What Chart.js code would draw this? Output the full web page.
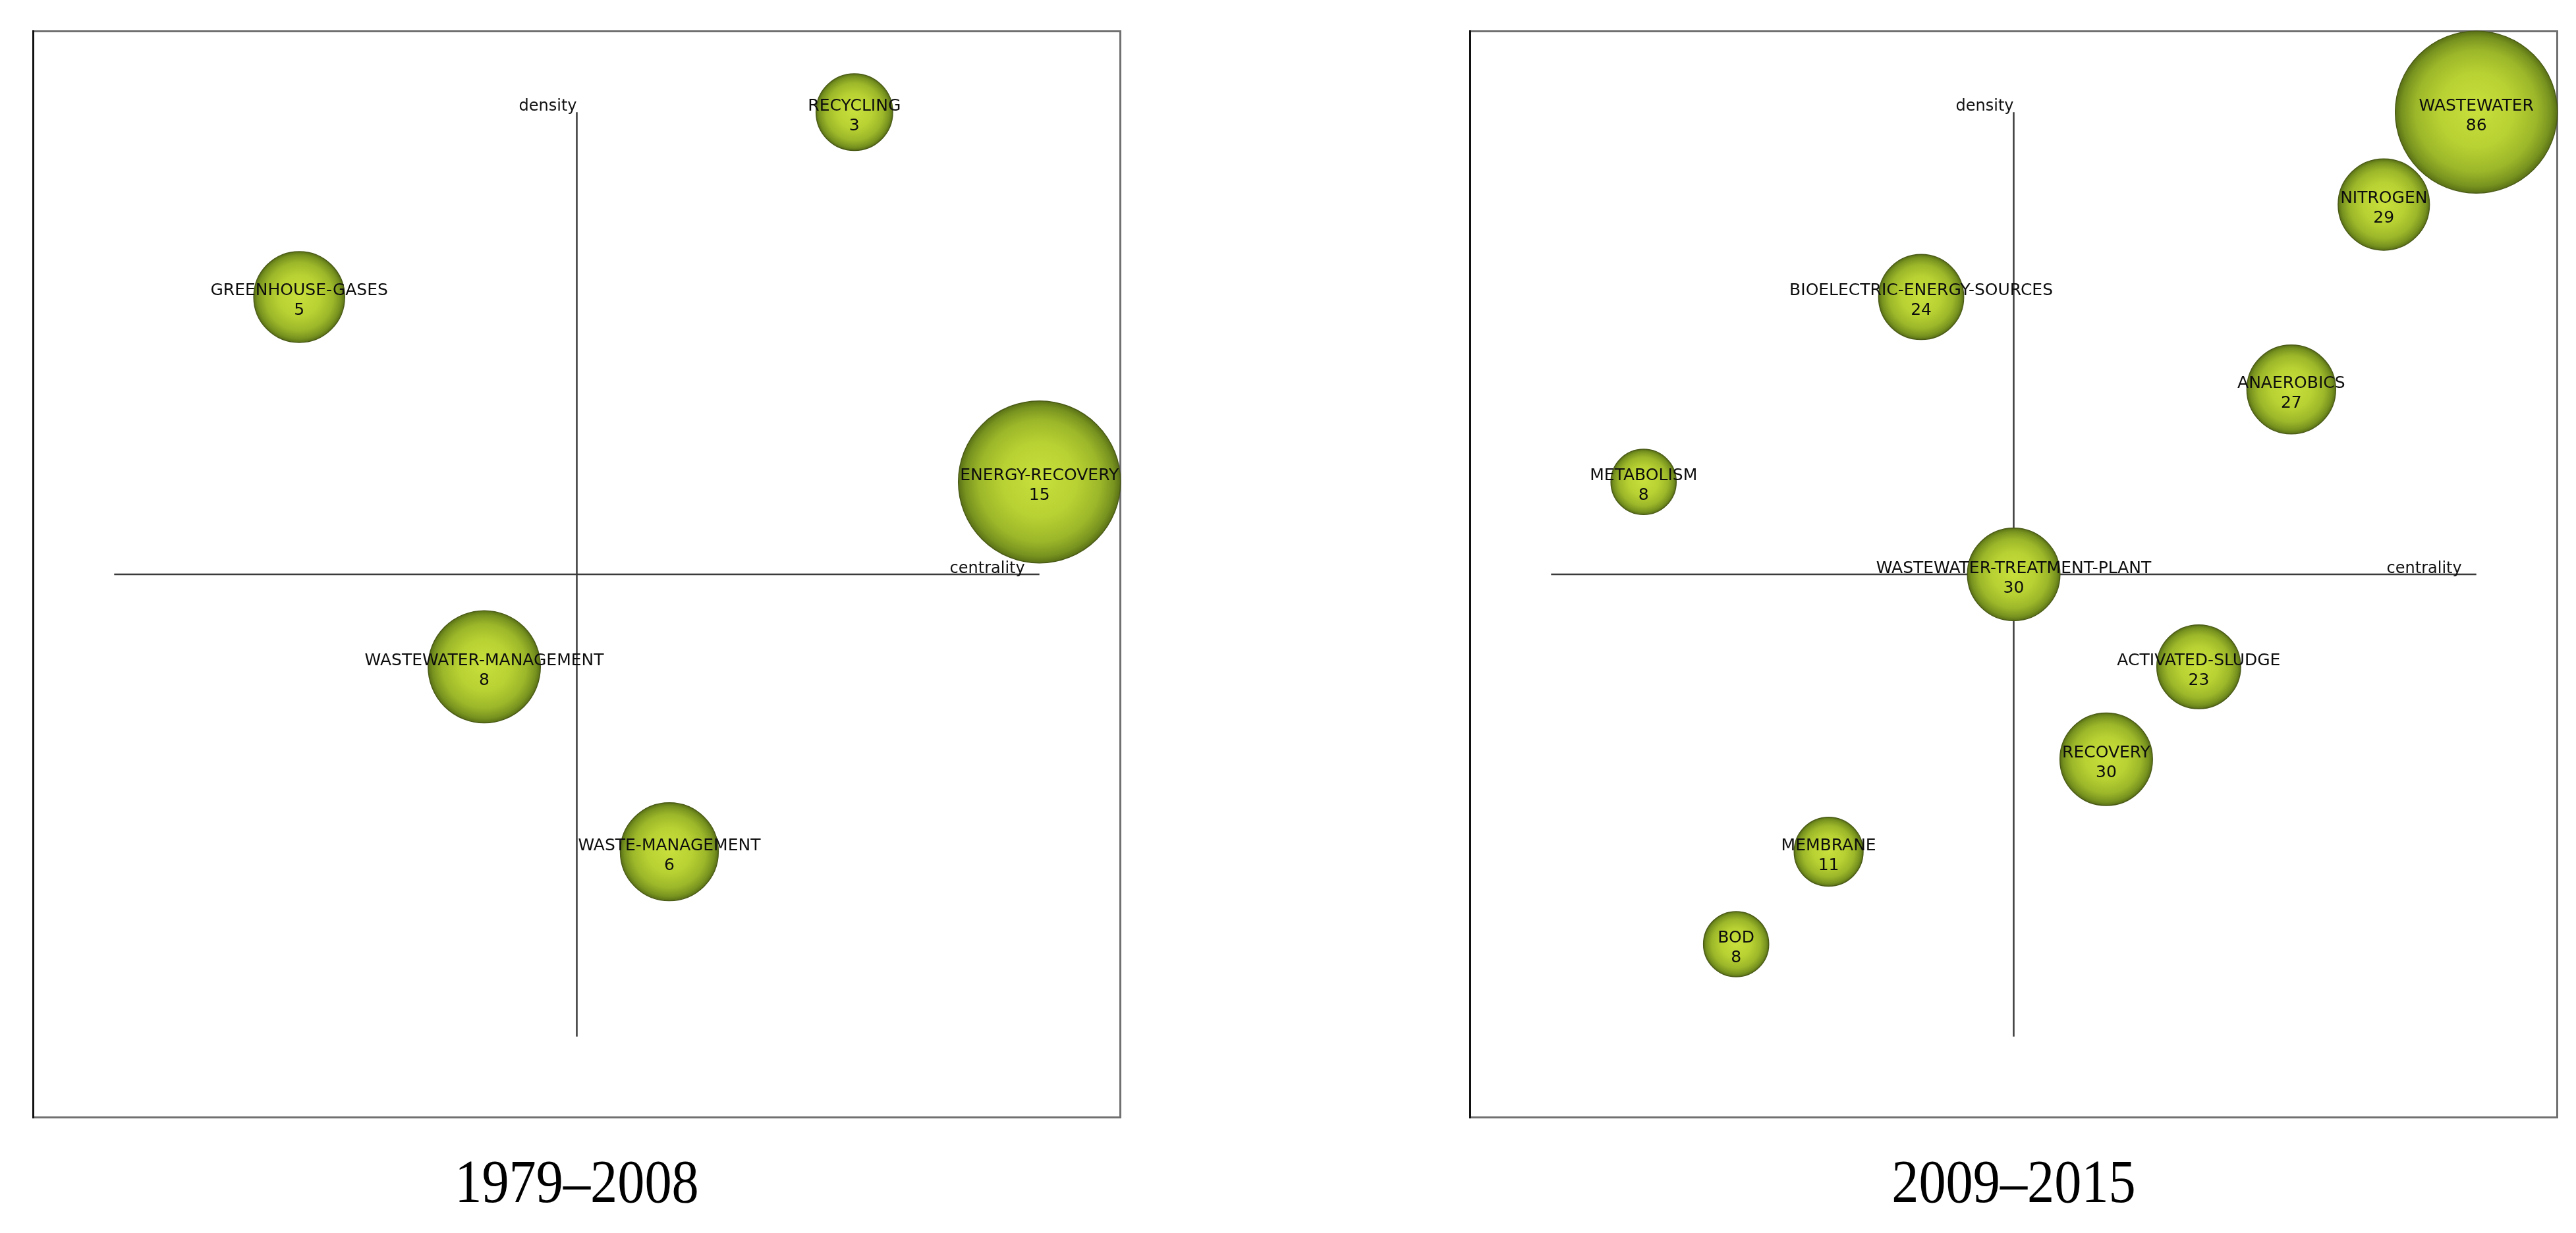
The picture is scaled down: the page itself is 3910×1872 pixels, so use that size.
<!DOCTYPE html>
<html lang="en">

<head>
  <meta charset="UTF-8">
  <title>Strategic diagrams</title>
  <script src="https://cdn.jsdelivr.net/npm/chart.js"></script>
  <style>
    body {
      margin: 0;
      padding: 0;
      width: 3910px;
      height: 1872px;
      background: #fff;
      position: relative;
      overflow: hidden;
    }

    /* 畫布四邊各多留 130px 給氣泡的 overflow padding，內框才是 1653x1652 */
    .panel {
      position: absolute;
      top: -84px;
      width: 1913px;
      height: 1912px;
    }

    .caption {
      position: absolute;
      top: 1746px;
      width: 1653px;
      text-align: center;
      font-family: 'Liberation Serif', 'Times New Roman', serif;
      font-size: 94px;
      line-height: 94px;
      height: 94px;
      color: #000;
    }

    .caption span {
      display: inline-block;
      transform: scaleX(0.876);
    }
  </style>
</head>

<body>
  <div class="panel" style="left: -81px;"><canvas id="chartEarly"></canvas></div>
  <div class="panel" style="left: 2100px;"><canvas id="chartLate"></canvas></div>
  <div class="caption" style="left: 49px;"><span id="captionEarly"></span></div>
  <div class="caption" style="left: 2230px;"><span id="captionLate"></span></div>
  <script>
    // 各期間的主題 (centrality / density 以軸長 ±100 表示)
    const earlyTopics = ['RECYCLING', 'GREENHOUSE-GASES', 'ENERGY-RECOVERY', 'WASTEWATER-MANAGEMENT', 'WASTE-MANAGEMENT'];
    const earlyCentrality = [60, -60, 100, -20, 20];
    const earlyDensity = [100, 60, 20, -20, -60];
    const earlyCounts = [3, 5, 15, 8, 6];

    const lateTopics = ['WASTEWATER', 'NITROGEN', 'BIOELECTRIC-ENERGY-SOURCES', 'ANAEROBICS', 'METABOLISM',
      'WASTEWATER-TREATMENT-PLANT', 'ACTIVATED-SLUDGE', 'RECOVERY', 'MEMBRANE', 'BOD'];
    const lateCentrality = [100, 80, -20, 60, -80, 0, 40, 20, -40, -60];
    const lateDensity = [100, 80, 60, 40, 20, 0, -20, -40, -60, -80];
    const lateCounts = [86, 29, 24, 27, 8, 30, 23, 30, 11, 8];

    const periodLabels = ['1979–2008', '2009–2015'];
    const axisTitles = { x: 'centrality', y: 'density' };

    const AXIS_LEN = 100;
    const VIEW = 117.7; // box edge relative to axis half length
    const PAD = 130;

    document.getElementById('captionEarly').textContent = periodLabels[0];
    document.getElementById('captionLate').textContent = periodLabels[1];

    function bubbleRadius(count, maxCount) {
      return 42 + 81 * count / maxCount;
    }

    function sphereFill(ctx) {
      const chart = ctx.chart;
      const raw = ctx.raw;
      if (!raw || !chart.chartArea) return '#a9c42c';
      const cx = chart.scales.x.getPixelForValue(raw.x);
      const cy = chart.scales.y.getPixelForValue(raw.y);
      const r = raw.r;
      const g = chart.ctx.createRadialGradient(cx, cy - r * 0.05, 0, cx, cy, r);
      g.addColorStop(0, '#c9e03c');
      g.addColorStop(0.45, '#b9d233');
      g.addColorStop(0.75, '#9cb729');
      g.addColorStop(0.92, '#78931f');
      g.addColorStop(1, '#5a7116');
      return g;
    }

    const quadrantPlugin = {
      id: 'quadrant',
      beforeDatasetsDraw(chart) {
        const { ctx, scales } = chart;
        const x0 = scales.x.getPixelForValue(0);
        const y0 = scales.y.getPixelForValue(0);
        const xl = scales.x.getPixelForValue(-AXIS_LEN);
        const xr = scales.x.getPixelForValue(AXIS_LEN);
        const yt = scales.y.getPixelForValue(AXIS_LEN);
        const yb = scales.y.getPixelForValue(-AXIS_LEN);
        const bl = scales.x.getPixelForValue(-VIEW);
        const br = scales.x.getPixelForValue(VIEW);
        const bt = scales.y.getPixelForValue(VIEW);
        const bb = scales.y.getPixelForValue(-VIEW);
        ctx.save();
        // 外框
        ctx.lineWidth = 3;
        ctx.strokeStyle = '#707070';
        ctx.strokeRect(bl + 1.5, bt + 1.5, br - bl - 3, bb - bt - 3);
        ctx.strokeStyle = '#111';
        ctx.beginPath();
        ctx.moveTo(bl + 1.5, bt);
        ctx.lineTo(bl + 1.5, bb);
        ctx.stroke();
        // 十字軸
        ctx.lineWidth = 2.5;
        ctx.strokeStyle = '#3a3a3a';
        ctx.beginPath();
        ctx.moveTo(xl, y0);
        ctx.lineTo(xr, y0);
        ctx.moveTo(x0, yt);
        ctx.lineTo(x0, yb);
        ctx.stroke();
        // 軸名稱
        ctx.fillStyle = '#111';
        ctx.font = '24px "DejaVu Sans", Verdana, sans-serif';
        ctx.textBaseline = 'alphabetic';
        ctx.textAlign = 'right';
        ctx.fillText(axisTitles.y, x0, yt - 2);
        ctx.fillText(axisTitles.x, xr - 22, y0 - 2);
        ctx.restore();
      },
      afterDatasetsDraw(chart) {
        const { ctx } = chart;
        const meta = chart.getDatasetMeta(0);
        const ds = chart.data.datasets[0];
        ctx.save();
        ctx.fillStyle = '#0d0d0d';
        ctx.font = '25px "DejaVu Sans", Verdana, sans-serif';
        ctx.textAlign = 'center';
        ctx.textBaseline = 'middle';
        meta.data.forEach((pt, i) => {
          ctx.fillText(ds.topics[i], pt.x, pt.y - 9);
          ctx.fillText(String(ds.counts[i]), pt.x, pt.y + 21);
        });
        ctx.restore();
      }
    };

    function chartMaker(canvasId, topics, centrality, density, counts) {
      const maxCount = Math.max(...counts);
      const points = topics.map((t, i) => {
        return {
          x: centrality[i],
          y: density[i],
          r: bubbleRadius(counts[i], maxCount)
        };
      });

      new Chart(document.getElementById(canvasId), {
        type: 'bubble',
        data: {
          datasets: [{
            data: points,
            topics: topics,
            counts: counts,
            backgroundColor: sphereFill,
            borderColor: '#4a5b16',
            borderWidth: 1.5,
            clip: false
          }]
        },
        options: {
          responsive: true,
          maintainAspectRatio: false,
          animation: false,
          layout: { padding: PAD },
          plugins: {
            legend: { display: false },
            tooltip: { enabled: false }
          },
          scales: {
            x: { type: 'linear', min: -VIEW, max: VIEW, bounds: 'data', display: false },
            y: { type: 'linear', min: -VIEW, max: VIEW, bounds: 'data', display: false }
          }
        },
        plugins: [quadrantPlugin]
      });
    }

    chartMaker('chartEarly', earlyTopics, earlyCentrality, earlyDensity, earlyCounts);
    chartMaker('chartLate', lateTopics, lateCentrality, lateDensity, lateCounts);
  </script>
</body>

</html>
